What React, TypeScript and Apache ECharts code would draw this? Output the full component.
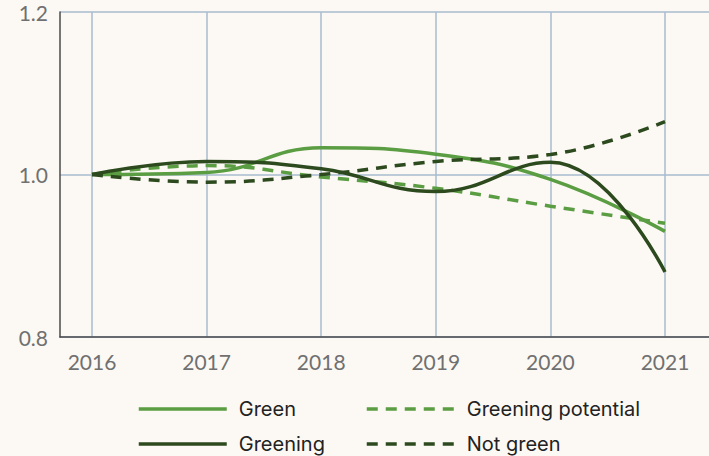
import React, { useEffect, useRef } from "react";
import * as echarts from "echarts";

const years = [2016, 2017, 2018, 2019, 2020, 2021];
const green = [1.0, 1.0025, 1.033, 1.025, 0.994, 0.93];
const greening = [1.0, 1.016, 1.007, 0.979, 1.015, 0.88];
const greeningPotential = [1.0, 1.011, 0.997, 0.983, 0.961, 0.94];
const notGreen = [1.0, 0.9906, 1.0, 1.016, 1.0246, 1.065];
const yMin = 0.8;
const yMax = 1.2;
const yStep = 0.2;

const LIGHT = "#5b9d42";
const DARK = "#2c4a1e";
const GRID = "#a8bbd0";
const AXIS = "#4a4a4a";

export default function App() {
  const ref = useRef<HTMLDivElement>(null);
  useEffect(() => {
    if (!ref.current) return;
    const chart = echarts.init(ref.current, null, { renderer: "svg" });
    const pairs = (arr: number[]) => years.map((y, i) => [y, arr[i]]);
    const mk = (name: string, arr: number[], color: string, dashed: boolean) => ({
      name,
      type: "line",
      xAxisIndex: 1,
      yAxisIndex: 1,
      data: pairs(arr),
      smooth: 0.45,
      symbol: "none",
      showSymbol: false,
      lineStyle: { color, width: 3.5, type: dashed ? [11, 8] : "solid" },
      itemStyle: { color },
    });
    const legendText = {
      color: "#222",
      fontFamily: "Inter",
      fontSize: 20,
      lineHeight: 22,
      padding: [0, 0, 0, 7],
    };
    const legend = (name: string, left: number, top: number) => ({
      data: [name],
      left,
      top,
      padding: 0,
      itemWidth: 88,
      itemHeight: 20,
      textStyle: legendText,
      itemStyle: { opacity: 0 },
      lineStyle: { width: 3.5 },
      selectedMode: false,
    });
    chart.setOption({
      animation: false,
      backgroundColor: "#fcf9f4",
      grid: [
        { left: 60, right: 0, top: 12, bottom: 119 },
        { left: 92, right: 44, top: 12, bottom: 119 },
      ],
      xAxis: [
        {
          type: "value",
          gridIndex: 0,
          min: 0,
          max: 1,
          axisLine: { show: true, lineStyle: { color: AXIS, width: 1.5 } },
          axisTick: { show: false },
          axisLabel: { show: false },
          splitLine: { show: false },
        },
        {
          type: "value",
          gridIndex: 1,
          min: years[0],
          max: years[years.length - 1],
          interval: 1,
          axisLine: { show: false },
          axisTick: { show: false },
          axisLabel: {
            color: "#707070",
            fontFamily: "Lato",
            fontSize: 21,
            margin: 14,
            formatter: (v: number) => String(v),
          },
          splitLine: { show: true, lineStyle: { color: GRID, width: 1.5 } },
        },
      ],
      yAxis: [
        {
          type: "value",
          gridIndex: 0,
          min: yMin,
          max: yMax,
          interval: yStep,
          axisLine: { show: true, lineStyle: { color: AXIS, width: 1.5 } },
          axisTick: { show: false },
          axisLabel: {
            color: "#707070",
            fontFamily: "Lato",
            fontSize: 21,
            margin: 12,
            formatter: (v: number) => v.toFixed(1),
          },
          splitLine: { show: true, lineStyle: { color: GRID, width: 1.5 } },
        },
        {
          type: "value",
          gridIndex: 1,
          min: yMin,
          max: yMax,
          show: false,
          splitLine: { show: false },
        },
      ],
      legend: [
        legend("Green", 137, 398),
        legend("Greening potential", 365, 398),
        legend("Greening", 137, 433),
        legend("Not green", 365, 433),
      ],
      series: [
        mk("Green", green, LIGHT, false),
        mk("Greening potential", greeningPotential, LIGHT, true),
        mk("Greening", greening, DARK, false),
        mk("Not green", notGreen, DARK, true),
      ],
    });
    return () => chart.dispose();
  }, []);
  return (
    <div
      ref={ref}
      style={{ position: "fixed", left: 0, top: 0, width: 709, height: 456 }}
    />
  );
}
